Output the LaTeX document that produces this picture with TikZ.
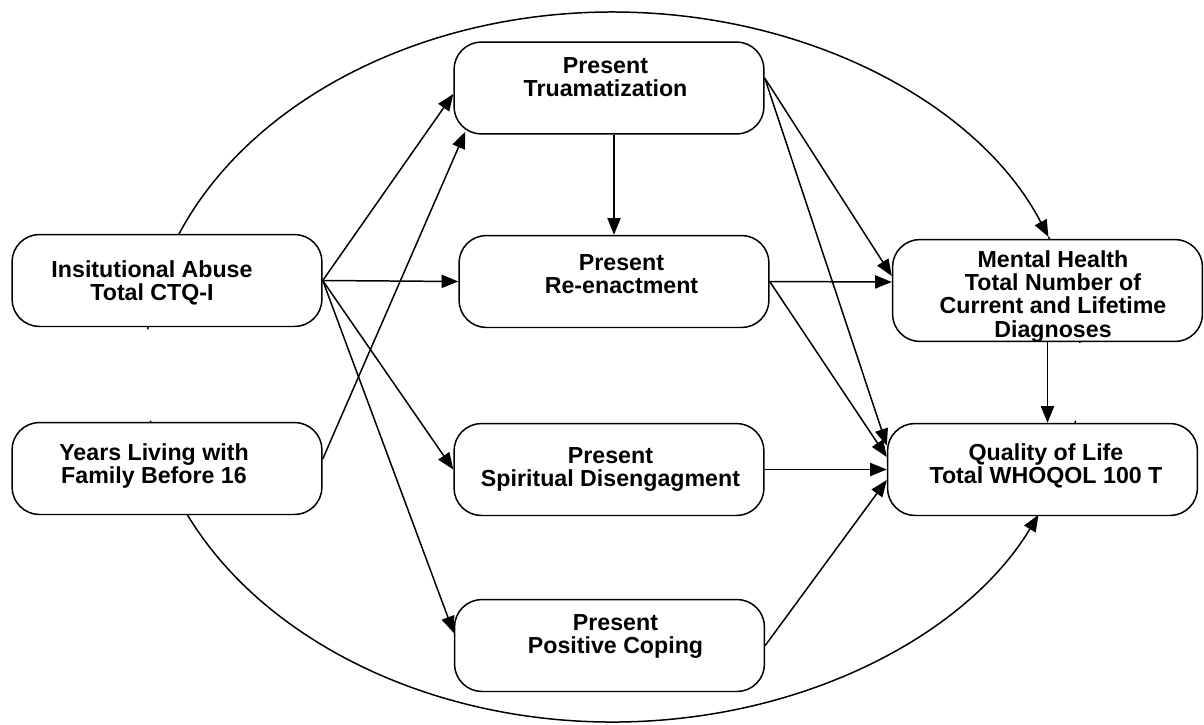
\documentclass[tikz,border=0pt]{standalone}
\usepackage{fontspec}
\setmainfont{Liberation Sans}
\usetikzlibrary{arrows.meta,calc}
\tikzset{>={Triangle[length=9.5pt,width=7.5pt]}}
\tikzset{box/.style={draw,fill=white,rounded corners=0.55cm,minimum width=6.2cm,minimum height=1.84cm,inner sep=0pt},
  txt/.style={anchor=north,align=center,inner sep=0pt,font=\fontsize{13.2}{13.2}\selectfont\bfseries}}

\begin{document}
\begin{tikzpicture}[x=0.02cm,y=-0.02cm,line width=0.85pt]
    \useasboundingbox (0,0) rectangle (1204,724);
    \coordinate (ctr) at (613,367);
    \draw[->] (ctr) ++(186.1:468 and 355) arc[start angle=186.1,end angle=338.5,x radius=468,y radius=355];
    \draw (ctr) ++(338.5:468 and 355) arc[start angle=338.5,end angle=356.1,x radius=468,y radius=355];
    \draw[->] (ctr) ++(171.3:468 and 355) arc[start angle=171.3,end angle=24.6,x radius=468,y radius=355];
    \draw (ctr) ++(24.6:468 and 355) arc[start angle=24.6,end angle=8.7,x radius=468,y radius=355];

    \node[box] (inst) at (167,280.5) {};
    \node[box] (years) at (167,468.5) {};
    \node[box] (trauma) at (609,88) {};
    \node[box] (reenact) at (614,281.5) {};
    \node[box] (spirit) at (609,469.5) {};
    \node[box] (coping) at (609.5,645.5) {};
    \node[box,minimum height=2.04cm] (mental) at (1047.5,290.5) {};
    \node[box] (qol) at (1042.5,469.5) {};

    \node[txt] (inst-t) at (152,260) {Insitutional Abuse\\Total CTQ-I};
    \node[txt] (years-t) at (154,443) {Years Living with\\Family Before 16};
    \node[txt] (trauma-t) at (605.5,57) {Present\\Truamatization};
    \node[txt] (reenact-t) at (621.5,254) {Present\\Re-enactment};
    \node[txt] (spirit-t) at (610.5,447) {Present\\Spiritual Disengagment};
    \node[txt] (coping-t) at (615.5,614) {Present\\Positive Coping};
    \node[txt] (mental-t) at (1053,250) {Mental Health\\Total Number of\\Current and Lifetime\\Diagnoses};
    \node[txt] (qol-t) at (1046,443) {Quality of Life\\Total WHOQOL 100 T};

    \draw[->] (inst.east) -- ($(trauma.west)+(0,6)$);
    \draw[->] ($(years.east)+(0,-9.5)$) -- ($(trauma.south west)+(12,-3)$);
    \draw[->] (inst.east) -- (reenact.west);
    \draw[->] (inst.east) -- (spirit.west);
    \draw[->] (inst.east) -- ($(coping.west)+(0,-12.5)$);
    \draw[->] (trauma.south -| reenact.north) -- (reenact.north);
    \draw[->] ($(trauma.east)+(0,-10)$) -- ($(mental.west)+(0,-14.5)$);
    \draw[->] ($(trauma.east)+(0,-10)$) -- ($(qol.west)+(0,-24)$);
    \draw[->] (reenact.east) -- ($(mental.west)+(0,-8.5)$);
    \draw[->] (reenact.east) -- ($(qol.west)+(0,-12.5)$);
    \draw[->] (spirit.east) -- (qol.west);
    \draw[->] (coping.east) -- ($(qol.west)+(0,10.5)$);
    \draw[->] (mental.south) -- (mental.south |- qol.north);
  \end{tikzpicture}
\end{document}
